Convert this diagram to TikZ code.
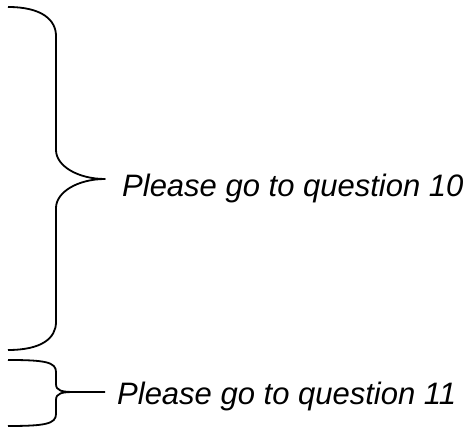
\documentclass[tikz,border=0pt]{standalone}
\usepackage{fontspec}
\setmainfont{Liberation Sans}
\begin{document}
\begin{tikzpicture}[x=1pt,y=-1pt,
  brace/.style={line width=1.8pt,line join=round},
  label/.style={anchor=base west,inner sep=0pt,font=\fontsize{31}{36}\selectfont\itshape}]
\useasboundingbox (0,0) rectangle (475,427);
% large brace
\coordinate (tipA) at (105,179);
\draw[brace] (8,7) .. controls (42,7) and (56,20) .. (56,36)
  -- (56,150) .. controls (56,166) and (78,179) .. (tipA)
  .. controls (78,179) and (56,192) .. (56,208)
  -- (56,322) .. controls (56,338) and (42,350) .. (8,350);
% small brace
\coordinate (tipB) at (105,392);
\draw[brace] (8,360) .. controls (45,360) and (56,362) .. (56,372)
  -- (56,384) .. controls (56,391) and (62,392) .. (75,392) -- (tipB)
  (75,392) .. controls (62,392) and (56,393) .. (56,400)
  -- (56,414) .. controls (56,424) and (45,426) .. (8,426);
\node[label] (q10) at (122,197) {Please go to question 10};
\node[label] (q11) at (117,405) {Please go to question 11};
\end{tikzpicture}
\end{document}
